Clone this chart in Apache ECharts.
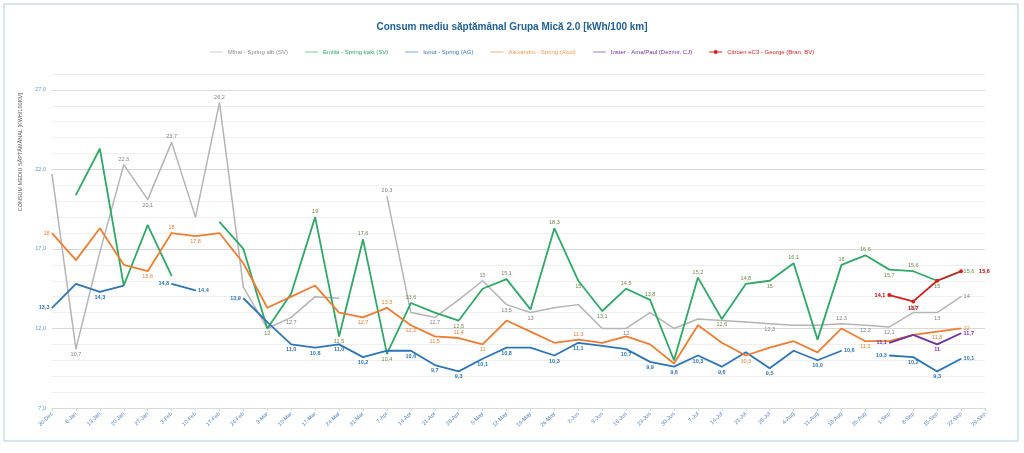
<!DOCTYPE html>
<html>
<head>
<meta charset="utf-8">
<script src="https://cdn.jsdelivr.net/npm/echarts@6/dist/echarts.min.js"></script>
<style>
html,body{margin:0;padding:0;background:#fff;}
#chart{width:1024px;height:453px;}
</style>
</head>
<body>
<div id="chart"></div>
<script>
const categories = ['30-Dec','6-Jan','13-Jan','20-Jan','27-Jan','3-Feb','10-Feb','17-Feb','24-Feb','3-Mar','10-Mar','17-Mar','24-Mar','31-Mar','7-Apr','14-Apr','21-Apr','28-Apr','5-May','12-May','19-May','26-May','2-Jun','9-Jun','16-Jun','23-Jun','30-Jun','7-Jul','14-Jul','21-Jul','28-Jul','4-Aug','11-Aug','18-Aug','25-Aug','1-Sep','8-Sep','15-Sep','22-Sep','29-Sep'];

const mihai = [21.7,10.7,16.8,22.3,20.1,23.7,19.0,26.2,14.6,12.0,12.7,14.0,13.9,null,20.3,13.0,12.7,13.8,15,13.5,13,13.3,13.5,12,12,13.0,12.0,12.6,12.5,12.4,12.3,12.2,12.2,12.3,12.2,12.1,13,13,14,null];
const emilia = [null,20.4,23.3,14.7,18.5,15.3,null,18.7,17.0,12,14.2,19,11.5,17.6,10.4,13.6,13.0,12.5,14.5,15.1,13.2,18.3,15,13.1,14.5,13.8,10.0,15.2,12.6,14.8,15,16.1,11.3,16,16.6,15.7,15.6,15,15.6,null];
const ionut = [13.3,14.8,14.3,14.7,null,14.8,14.4,null,13.9,12.4,11.0,10.8,11.0,10.2,10.6,10.6,9.7,9.3,10.1,10.8,10.8,10.3,11.1,10.9,10.7,9.9,9.6,10.3,9.6,10.5,9.5,10.6,10.0,10.6,null,10.3,10.2,9.3,10.1,null];
const alexandru = [18,16.3,18.3,16.0,15.6,18,17.8,18.0,16.1,13.3,14.0,14.7,13.0,12.7,13.3,12.2,11.5,11.4,11,12.5,11.8,11.1,11.3,11.1,11.5,11.0,9.8,12.2,11.1,10.3,10.8,11.2,10.5,12.0,11.2,11.2,11.6,11.8,12,null];
const inster = [null,null,null,null,null,null,null,null,null,null,null,null,null,null,null,null,null,null,null,null,null,null,null,null,null,null,null,null,null,null,null,null,null,null,null,11.1,11.6,11,11.7,null];
const citroen = [null,null,null,null,null,null,null,null,null,null,null,null,null,null,null,null,null,null,null,null,null,null,null,null,null,null,null,null,null,null,null,null,null,null,null,14.1,13.7,15.0,15.6,null];

// indices of points that carry a data label
const mihaiLabels = [1,3,4,5,7,10,14,16,18,19,20,24,30,33,34,35,36,37,38];
const emiliaLabels = [9,11,12,13,14,15,17,19,21,22,23,24,25,27,28,29,30,31,33,34,35,36,37,38];
const ionutLabels = [0,2,5,6,8,10,11,12,13,15,16,17,18,19,21,22,24,25,26,27,28,30,32,33,35,36,37,38];
const alexandruLabels = [0,4,5,6,13,14,15,16,17,18,22,29,34,37,38];
const insterLabels = [35,37,38];
const citroenLabels = [35,36,38];

const seriesNames = ['Mihai - Spring alb (SV)','Emilia - Spring kaki (SV)','Ionut - Spring (AG)','Alexandru - Spring (Aiud)','Inster - Ama/Paul (Dezmir, CJ)','Citroen eC3 - George (Bran, BV)'];

function fmtPlain(v){ return String(v).replace('.', ','); }
function fmtFixed(v){ return v.toFixed(1).replace('.', ','); }

function labelPos(arr, i, def){
  const p = i > 0 ? arr[i-1] : null;
  const n = i < arr.length-1 ? arr[i+1] : null;
  const v = arr[i];
  if (n == null && p != null) return 'right';
  if (p == null && n != null) { return Math.abs(v-n) > 3 ? (v > n ? 'top' : 'bottom') : 'left'; }
  if (def) return def;
  if (v >= p && v >= n) return 'top';
  if (v <= p && v <= n) return 'bottom';
  return v > (p+n)/2 ? 'top' : 'bottom';
}

function buildData(arr, labels, fmt, def, endDist){
  return arr.map((v, i) => {
    if (v == null) return null;
    if (labels.indexOf(i) < 0) return v;
    const pos = labelPos(arr, i, def);
    const lab = { show: true, position: pos, formatter: p => fmt(p.value) };
    if (pos === 'right' && endDist) lab.distance = endDist;
    return { value: v, label: lab };
  });
}

function mkSeries(name, arr, labels, color, labelColor, fmt, def, width, bold, opts, endDist){
  return Object.assign({
    name: name,
    type: 'line',
    data: buildData(arr, labels, fmt, def, endDist),
    symbol: 'circle',
    symbolSize: 1,
    showSymbol: true,
    showAllSymbol: true,
    connectNulls: false,
    lineStyle: { color: color, width: width },
    itemStyle: { color: color },
    label: { show: false, fontSize: 5.5, color: labelColor, distance: 2, fontWeight: bold ? 'bold' : 'normal', fontFamily: 'Liberation Sans' },
    emphasis: { disabled: true },
    animation: false
  }, opts || {});
}

const chart = echarts.init(document.getElementById('chart'), null, { renderer: 'canvas' });
const lineIcon = 'path://M0,2.6 L16,2.6 L16,3.4 L0,3.4 Z';
const dotIcon = 'path://M0,2.5 L16,2.5 L16,3.5 L0,3.5 Z M8,0.5 A2.5,2.5 0 1 1 8,5.5 A2.5,2.5 0 1 1 8,0.5 Z';
const legendColors = ['#8c8c8c','#2fa866','#2e75b6','#ed9a5a','#7030a0','#d42020'];

chart.setOption({
  backgroundColor: '#ffffff',
  animation: false,
  title: {
    text: 'Consum mediu săptămânal Grupa Mică 2.0 [kWh/100 km]',
    left: 'center', top: 17,
    textStyle: { fontSize: 10, fontWeight: 'bold', color: '#1f6096', fontFamily: 'Liberation Sans' }
  },
  legend: {
    top: 44, left: 'center',
    itemWidth: 13, itemHeight: 5, itemGap: 17,
    textStyle: { fontSize: 6, fontFamily: 'Liberation Sans' },
    data: seriesNames.map((n, k) => ({ name: n, icon: k === 5 ? dotIcon : lineIcon, textStyle: { color: legendColors[k] } }))
  },
  grid: { left: 52, right: 39, top: 74, bottom: 45, containLabel: false },
  xAxis: {
    type: 'category',
    data: categories,
    boundaryGap: false,
    axisLine: { lineStyle: { color: '#d9d9d9' } },
    axisTick: { show: true, alignWithLabel: true, length: 3, lineStyle: { color: '#d9d9d9' } },
    axisLabel: { rotate: 45, fontSize: 5.5, color: '#4f81bd', interval: 0, margin: 5, fontFamily: 'Liberation Sans' }
  },
  yAxis: {
    type: 'value',
    min: 7, max: 28, interval: 1,
    axisLine: { show: false },
    axisTick: { show: false },
    axisLabel: {
      fontSize: 5.5, color: '#5b9bd5', margin: 6, fontFamily: 'Liberation Sans',
      formatter: v => ((v - 7) % 5 === 0 && v <= 27) ? fmtFixed(v) : ''
    },
    splitLine: { lineStyle: { color: ['#d9d9d9','#efefef','#efefef','#efefef','#efefef'], width: 1 } }
  },
  graphic: [
    { type: 'rect', shape: { x: 4, y: 4, width: 1014, height: 437 }, style: { fill: 'none', stroke: '#a9cce3', lineWidth: 1 }, silent: true },
    { type: 'text', x: 20, y: 152, rotation: Math.PI/2,
      style: { text: 'CONSUM MEDIU SĂPTĂMÂNAL [KWH/100KM]', fontSize: 5.5, fill: '#595959', align: 'center', verticalAlign: 'middle', fontFamily: 'Liberation Sans' } }
  ],
  series: [
    mkSeries(seriesNames[0], mihai, mihaiLabels, '#b4b4b4', '#7f7f7f', fmtPlain, null, 1.5, false),
    mkSeries(seriesNames[1], emilia, emiliaLabels, '#2fa866', '#6f8a4a', fmtPlain, null, 1.8, false),
    mkSeries(seriesNames[2], ionut, ionutLabels, '#2e75b6', '#2e75b6', fmtFixed, 'bottom', 1.8, true),
    mkSeries(seriesNames[3], alexandru, alexandruLabels, '#ed7d31', '#ed7d31', fmtPlain, null, 1.8, false),
    mkSeries(seriesNames[4], inster, insterLabels, '#7030a0', '#7030a0', fmtPlain, 'bottom', 1.8, true),
    mkSeries(seriesNames[5], citroen, citroenLabels, '#d42020', '#c00000', fmtPlain, null, 1.8, true, { symbolSize: 4 }, 16)
  ]
});
</script>
</body>
</html>
